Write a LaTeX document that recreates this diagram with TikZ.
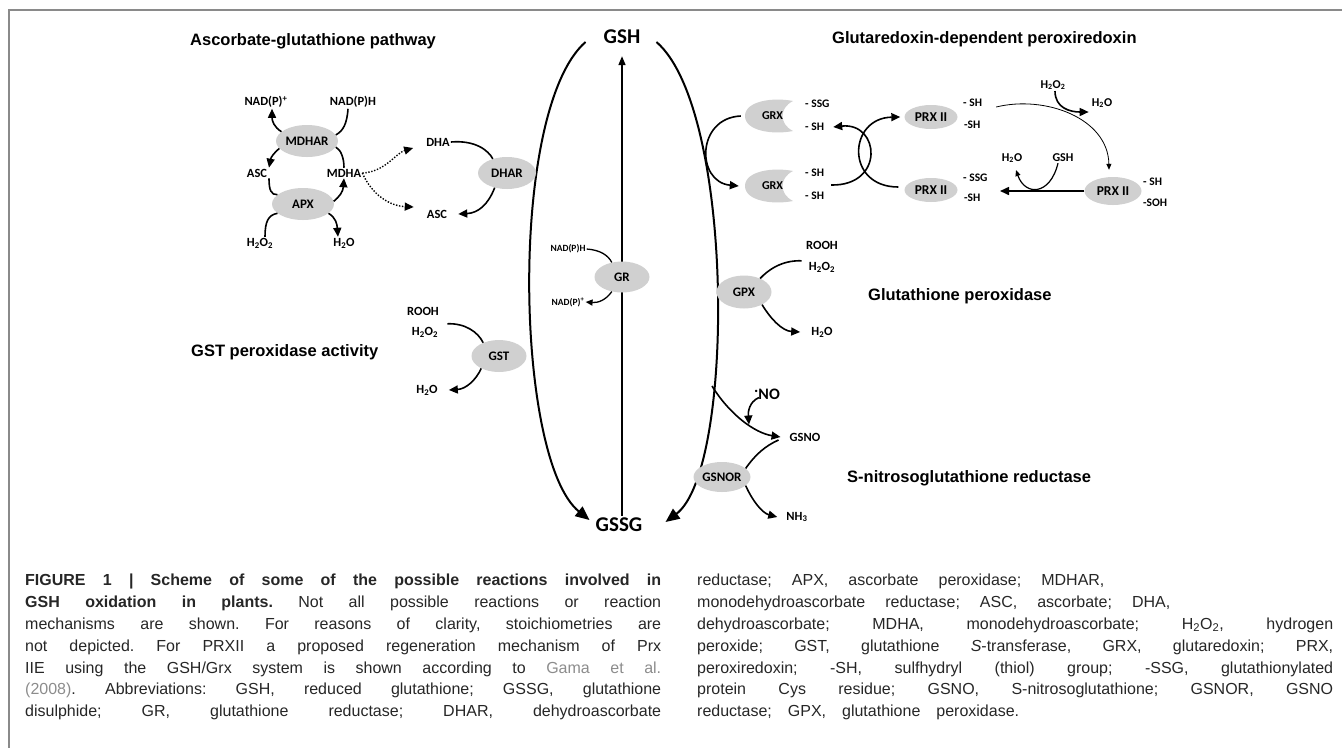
\documentclass[tikz,border=0pt]{standalone}
\usepackage{fontspec}
\setmainfont{Liberation Sans}
\newfontfamily\chemfont{Carlito}
\usetikzlibrary{arrows.meta,positioning,shapes.geometric}
\definecolor{EnzFill}{HTML}{D0D0D0}
\definecolor{FrameGrey}{HTML}{8A8A8A}
\definecolor{CiteGrey}{HTML}{8C8C8C}
\newcommand{\Hoo}{H\textsubscript{2}O\textsubscript{2}}
\newcommand{\Ho}{H\textsubscript{2}O}
\newcommand{\grxbody}[1]{\fill[EnzFill,shift={#1}] (24,-15) .. controls (4,-19) and (-24,-15) .. (-24,0) .. controls (-24,15) and (4,19) .. (24,15) .. controls (10,8) and (10,-8) .. (24,-15) -- cycle;}
\tikzset{
  enz/.style={ellipse, fill=EnzFill, inner sep=0pt, minimum width=60pt, minimum height=32pt,
    font=\chemfont\bfseries\fontsize{13}{13}\selectfont},
  chem/.style={inner sep=1pt, font=\chemfont\bfseries\fontsize{12.5}{13}\selectfont},
  smallchem/.style={inner sep=1pt, font=\chemfont\bfseries\fontsize{9.5}{10}\selectfont},
  suffix/.style={anchor=west, inner sep=0pt, font=\chemfont\bfseries\fontsize{11.5}{12}\selectfont},
  bigchem/.style={inner sep=2pt, font=\chemfont\bfseries\fontsize{21}{21}\selectfont},
  heading/.style={anchor=base west, inner sep=0pt, font=\bfseries\fontsize{16.5}{18}\selectfont},
  rxn/.style={line width=1.6pt, -{Triangle[length=9pt,width=8pt]}},
  feed/.style={line width=1.6pt},
  dotarrow/.style={line width=1.4pt, dash pattern=on 1.4pt off 1.6pt, -{Triangle[length=9pt,width=8pt]}},
  mainarc/.style={line width=2pt, -{Triangle[length=14pt,width=12pt]}},
  thinarc/.style={line width=0.8pt, -{Triangle[length=6pt,width=5pt]}}
}
\begin{document}
\begin{tikzpicture}[x=1pt,y=-1pt]
\useasboundingbox (0,0) rectangle (1342,748);
% frame
\draw[FrameGrey, line width=2pt] (1342,10) -- (9,10) -- (9,748);

% titles
\node[heading] (asctitle) at (190,45) {Ascorbate-glutathione pathway};
\node[heading] (grxtitle) at (832,43) {Glutaredoxin-dependent peroxiredoxin};
\node[heading] (gsttitle) at (191,356) {GST peroxidase activity};
\node[heading] (gpxtitle) at (868,300) {Glutathione peroxidase};
\node[heading] (gsnotitle) at (847,482) {S-nitrosoglutathione reductase};

% GSH / GSSG
\node[bigchem] (gsh) at (622,37) {GSH};
\node[bigchem] (gssg) at (619,525) {GSSG};
\draw[mainarc] ([shift={(-16pt,-5pt)}]gsh.west) .. controls (508,110) and (515,460) .. ([shift={(-4pt,5pt)}]gssg.west);
\draw[mainarc] ([shift={(14pt,-5pt)}]gsh.east) .. controls (735,110) and (735,470) .. ([shift={(21pt,3pt)}]gssg.east);
\draw[line width=1.6pt, -{Triangle[length=9pt,width=7pt]}] (gsh.south |- gssg.north) -- ([yshift=-10pt]gsh.south);

% GR
\node[enz, minimum width=55pt, minimum height=31pt] (gr) at (622,277) {GR};
\node[smallchem] (nadphb) at (568,249) {NAD(P)H};
\node[smallchem] (nadppb) at (568,302) {NAD(P)\textsuperscript{+}};
\draw[feed, line width=1.3pt] (nadphb.east) .. controls (600,250) and (608,255) .. (gr.125);
\draw[rxn, line width=1.3pt, -{Triangle[length=7pt,width=6pt]}] (gr.235) .. controls (606,300) and (598,303) .. (nadppb.east);

% ascorbate-glutathione
\node[enz, minimum width=62pt] (mdhar) at (307,141) {MDHAR};
\node[enz, minimum width=62pt] (apx) at (303,204) {APX};
\node[enz, minimum width=58pt] (dhar) at (507,173) {DHAR};
\node[chem] (nadpp) at (266,102) {NAD(P)\textsuperscript{+}};
\node[chem] (nadph) at (353,102) {NAD(P)H};
\node[chem] (ascl) at (257,173) {ASC};
\node[chem] (mdha) at (344,173) {MDHA};
\node[chem] (hooa) at (260,243) {\Hoo};
\node[chem] (hoa) at (344,243) {\Ho};
\node[chem] (dha) at (438,142) {DHA};
\node[chem] (ascr) at (437,214) {ASC};
\draw[rxn] (mdhar.160) .. controls (274,127) and (272,121) .. ([xshift=6pt]nadpp.south);
\draw[feed] ([xshift=-5pt]nadph.south) .. controls (347,124) and (343,131) .. (mdhar.12);
\draw[feed] (mdha.north) .. controls (344,158) and (341,150) .. (mdhar.-12);
\draw[rxn] (mdhar.195) .. controls (274,153) and (271,157) .. ([xshift=12pt]ascl.north);
\draw[feed] ([xshift=12pt]ascl.south) .. controls (269,190) and (271,195) .. (apx.160);
\draw[feed] ([xshift=5pt]hooa.north) .. controls (265,222) and (268,215) .. (apx.200);
\draw[rxn] (apx.5) .. controls (339,197) and (343,192) .. (mdha.south);
\draw[rxn] (apx.-20) .. controls (336,218) and (337,224) .. ([xshift=-6pt]hoa.north);
\draw[dotarrow] (mdha.east) .. controls (385,172) and (396,153) .. ([shift={(-12pt,-6pt)}]dha.west);
\draw[dotarrow] (mdha.east) .. controls (372,195) and (390,206) .. ([shift={(-12pt,7pt)}]ascr.west);
\draw[feed] (dha.east) .. controls (475,140) and (488,150) .. (dhar.135);
\draw[rxn] (dhar.230) .. controls (488,205) and (478,213) .. ([xshift=10pt]ascr.east);

% GST
\node[enz, minimum width=55pt] (gst) at (499,356) {GST};
\node[chem] (rooha) at (423,311) {ROOH};
\node[chem] (hoob) at (425,332) {\Hoo};
\node[chem] (hob) at (427,390) {\Ho};
\draw[feed] ([shift={(8pt,2pt)}]hoob.north east) .. controls (465,323) and (478,332) .. (gst.140);
\draw[rxn] (gst.215) .. controls (476,380) and (466,389) .. ([xshift=10pt]hob.east);

% GPX
\node[enz, minimum width=55pt, minimum height=33pt] (gpx) at (744,292) {GPX};
\node[chem] (roohb) at (822,245) {ROOH};
\node[chem] (hooc) at (822,267) {\Hoo};
\node[chem] (hoc) at (822,332) {\Ho};
\draw[feed] ([xshift=-6pt]hooc.north west) .. controls (782,260) and (768,270) .. (gpx.40);
\draw[rxn] (gpx.-35) .. controls (770,318) and (782,331) .. ([xshift=-10pt]hoc.west);

% GSNO
\coordinate (gsnofork) at (712,386);
\node[chem] (gsno) at (805,437) {GSNO};
\node[chem, font=\chemfont\bfseries\fontsize{16}{16}\selectfont] (no) at (767,394) {\raisebox{.4em}{.}NO};
\node[enz, minimum width=57pt, minimum height=30pt] (gsnor) at (722,477) {GSNOR};
\node[chem] (nhthree) at (797,517) {NH\textsubscript{3}};
\draw[rxn] (gsnofork) .. controls (730,415) and (755,433) .. ([xshift=-8pt]gsno.west);
\draw[rxn] ([shift={(6pt,3pt)}]no.south west) .. controls (749,402) and (748,412) .. ([shift={(-4pt,-24pt)}]no.south west);
\draw[feed] ([shift={(-10pt,-3pt)}]gsno.west) .. controls (765,446) and (755,455) .. (gsnor.20);
\draw[rxn] (gsnor.-20) .. controls (752,500) and (762,513) .. ([xshift=-8pt]nhthree.west);

% glutaredoxin / peroxiredoxin
\grxbody{(769,116)}
\grxbody{(769,186)}
\node[minimum width=48pt, inner sep=0pt, font=\chemfont\bfseries\fontsize{12}{12}\selectfont] (grxa) at (769,116) {\hspace*{7pt}GRX};
\node[minimum width=48pt, inner sep=0pt, font=\chemfont\bfseries\fontsize{12}{12}\selectfont] (grxb) at (769,186) {\hspace*{7pt}GRX};
\node[suffix] (ssga) at (805,104) {- SSG};
\node[suffix] (sha) at (805,127) {- SH};
\node[suffix] (shb) at (805,173) {- SH};
\node[suffix] (shc) at (805,196) {- SH};
\node[enz, minimum width=53pt, minimum height=24pt, font=\chemfont\bfseries\fontsize{13.5}{13.5}\selectfont] (prxa) at (931,117) {PRX II};
\node[enz, minimum width=53pt, minimum height=24pt, font=\chemfont\bfseries\fontsize{13.5}{13.5}\selectfont] (prxb) at (931,190) {PRX II};
\node[enz, minimum width=57pt, minimum height=28pt, font=\chemfont\bfseries\fontsize{13.5}{13.5}\selectfont] (prxc) at (1113,191) {PRX II};
\node[suffix] (prxsha) at (963,103) {- SH};
\node[suffix] (prxshb) at (964,125) {-SH};
\node[suffix] (prxssg) at (963,178) {- SSG};
\node[suffix] (prxshc) at (964,198) {-SH};
\node[suffix] (prxshd) at (1143,182) {- SH};
\node[suffix] (prxsoh) at (1143,203) {-SOH};
\node[chem, font=\chemfont\bfseries\fontsize{12}{12}\selectfont] (hood) at (1053,85) {\Hoo};
\node[chem, font=\chemfont\bfseries\fontsize{12}{12}\selectfont] (hod) at (1102,103) {\Ho};
\node[chem, font=\chemfont\bfseries\fontsize{12}{12}\selectfont] (hoe) at (1012,158) {\Ho};
\node[chem, font=\chemfont\bfseries\fontsize{12}{12}\selectfont] (gshb) at (1063,158) {GSH};
\coordinate (prxend) at (1000,191);
\draw[rxn] ([xshift=-4pt]grxa.west) .. controls (696,118) and (696,182) .. ([xshift=-6pt]grxb.west);
\draw[rxn] ([shift={(7pt,-12pt)}]shb.east) .. controls (885,186) and (880,122) .. ([xshift=9pt]sha.east);
\draw[rxn] ([shift={(-6pt,3pt)}]prxb.west) .. controls (845,187) and (848,118) .. ([xshift=-4pt]prxa.west);
\draw[thinarc] ([shift={(14pt,-4pt)}]prxsha.east) .. controls (1045,95) and (1108,118) .. ([shift={(-4pt,7pt)}]prxc.north);
\draw[rxn] ([xshift=2pt]hood.south) .. controls (1055,108) and (1070,112) .. ([shift={(-2pt,-9pt)}]hod.west);
\draw[rxn] (prxc.west) -- (prxc.west -| prxend);
\draw[line width=1.2pt, -{Triangle[length=6pt,width=5pt]}] ([xshift=-5pt]gshb.south) .. controls (1050,196) and (1025,196) .. ([shift={(4pt,-6pt)}]hoe.south);

% caption
\node[anchor=north west, inner sep=0pt, text=black!85] (capleft) at (25,574) {\parbox[t]{636pt}{\fontsize{16}{21.8}\selectfont\frenchspacing\tolerance=10000\hbadness=10000\parfillskip=0pt
\textbf{FIGURE 1 | Scheme of some of the possible reactions involved in\linebreak GSH oxidation in plants.} Not all possible reactions or reaction\linebreak mechanisms are shown. For reasons of clarity, stoichiometries are\linebreak not depicted. For PRXII a proposed regeneration mechanism of Prx\linebreak IIE using the GSH/Grx system is shown according to {\color{CiteGrey}Gama et al.}\linebreak {\color{CiteGrey}(2008)}. Abbreviations: GSH, reduced glutathione; GSSG, glutathione\linebreak disulphide; GR, glutathione reductase; DHAR, dehydroascorbate}};
\node[anchor=north west, inner sep=0pt, text=black!85] (capright) at (697,574) {\parbox[t]{636pt}{\fontsize{16}{21.8}\selectfont\frenchspacing\tolerance=10000\hbadness=10000
{\spaceskip=20pt reductase; APX, ascorbate peroxidase; MDHAR,}\newline {\spaceskip=20pt monodehydroascorbate reductase; ASC, ascorbate; DHA,}\newline dehydroascorbate; MDHA, monodehydroascorbate; H\textsubscript{2}O\textsubscript{2}, hydrogen\linebreak peroxide; GST, glutathione \textit{S}-transferase, GRX, glutaredoxin; PRX,\linebreak peroxiredoxin; -SH, sulfhydryl (thiol) group; -SSG, glutathionylated\linebreak protein Cys residue; GSNO, S-nitrosoglutathione; GSNOR, GSNO\linebreak {\spaceskip=16pt reductase; GPX, glutathione peroxidase.}}};
\end{tikzpicture}
\end{document}
